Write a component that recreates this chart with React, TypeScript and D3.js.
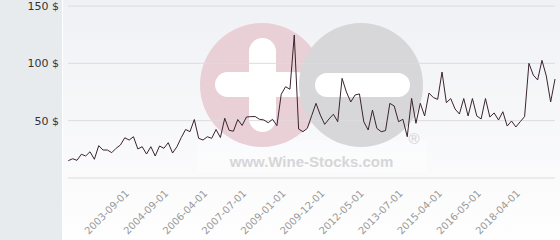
import React from "react";
import * as d3 from "d3";

const prices: number[] = [
  15.1, 16.8, 15.4, 20.7, 19.2, 22.9, 16.3, 28.2, 24.4, 24.4,
  22.1, 25.9, 28.8, 35.1, 33.1, 36.0, 25.3, 27.3, 20.9, 27.3,
  19.2, 27.9, 25.9, 30.8, 21.8, 27.3, 35.3, 42.3, 40.4, 51.0,
  34.6, 33.1, 36.0, 34.6, 42.3, 35.3, 52.1, 41.6, 40.8, 51.0,
  45.8, 53.2, 53.5, 53.6, 51.2, 50.6, 48.2, 51.2, 45.6, 73.0,
  79.6, 77.4, 124.7, 42.7, 40.4, 43.3, 54.3, 65.1, 54.9, 46.8,
  51.5, 55.6, 49.1, 86.9, 75.0, 66.3, 72.4, 73.3, 49.1, 41.9,
  59.3, 43.3, 40.4, 41.3, 65.1, 62.8, 49.1, 51.2, 36.0, 69.5,
  47.7, 65.1, 54.1, 74.1, 70.2, 68.6, 92.4, 65.7, 69.3, 60.2,
  55.8, 69.3, 54.1, 69.3, 54.1, 51.5, 69.3, 53.2, 56.7, 50.6,
  57.8, 45.3, 49.7, 44.5, 49.1, 53.5, 100.0, 89.8, 85.5, 102.6,
  89.0, 66.3, 86.3,
];

const tickLabels: string[] = [
  "2003-09-01", "2004-09-01", "2006-04-01", "2007-07-01", "2009-01-01",
  "2009-12-01", "2012-05-01", "2013-07-01", "2015-04-01", "2016-05-01",
  "2018-04-01",
];
const tickIndices: number[] = [13, 22, 31, 40, 49, 58, 67, 76, 85, 94, 103];

const yTicks: number[] = [0, 50, 100, 150];

export default function App() {
  const W = 560;
  const H = 240;
  const x = d3.scaleLinear().domain([0, prices.length - 1]).range([68.3, 555]);
  const y = d3.scaleLinear().domain([0, 150]).range([178, 6]);
  const line = d3
    .line<number>()
    .x((_, i) => x(i))
    .y((d) => y(d));

  return (
    <svg
      width={W}
      height={H}
      style={{ position: "absolute", left: 0, top: 0, display: "block" }}
      fontFamily="DejaVu Sans, sans-serif"
    >
      <defs>
        <linearGradient id="bg" x1="0" y1="0" x2="0" y2="1">
          <stop offset="0" stopColor="#f0f1f5" />
          <stop offset="1" stopColor="#fefefe" />
        </linearGradient>
      </defs>
      <rect x={0} y={0} width={W} height={H} fill="url(#bg)" />
      <rect x={0} y={0} width={62} height={H} fill="#e7ebee" />
      <rect x={62} y={0} width={1} height={H} fill="#ffffff" />

      {/* watermark */}
      <g>
        <rect x={197} y={140} width={230} height={32} fill="#ffffff" opacity={0.35} />
        <circle cx={262} cy={85} r={62} fill="#e9cfd6" />
        <rect x={249} y={38} width={27} height={94} rx={13.5} fill="#ffffff" />
        <rect x={215} y={72} width={94} height={25} rx={12.5} fill="#ffffff" />
        <circle cx={361} cy={85} r={62} fill="#d7d7d9" />
        <rect x={315} y={73} width={95} height={24} rx={12} fill="#ffffff" />
        <text
          x={311.5}
          y={167}
          textAnchor="middle"
          fontFamily="Liberation Sans, Arial, sans-serif"
          fontWeight="bold"
          fontSize={15}
          fill="#d6d6d8"
        >
          www.Wine-Stocks.com
        </text>
        <text
          x={414}
          y={144}
          textAnchor="middle"
          fontFamily="Liberation Sans, Arial, sans-serif"
          fontSize={15}
          fill="#d2d2d4"
        >
          ®
        </text>
      </g>

      {yTicks.map((t) => (
        <line key={"g" + t} x1={68} x2={555} y1={y(t)} y2={y(t)} stroke="#dcdcdf" strokeWidth={1} />
      ))}
      {yTicks
        .filter((t) => t > 0)
        .map((t) => (
          <text
            key={"l" + t}
            x={59}
            y={y(t)}
            dy="0.35em"
            textAnchor="end"
            fontSize={11}
            fill="#333333"
          >
            {t} $
          </text>
        ))}

      <path d={line(prices) || ""} fill="none" stroke="#3b2330" strokeWidth={1} strokeLinejoin="round" />

      {tickLabels.map((lab, k) => {
        const tx = x(tickIndices[k]) + 5;
        const ty = 194;
        return (
          <text
            key={lab}
            x={tx}
            y={ty}
            textAnchor="end"
            fontSize={10}
            fill="#999999"
            transform={`rotate(-45 ${tx} ${ty})`}
          >
            {lab}
          </text>
        );
      })}
    </svg>
  );
}
